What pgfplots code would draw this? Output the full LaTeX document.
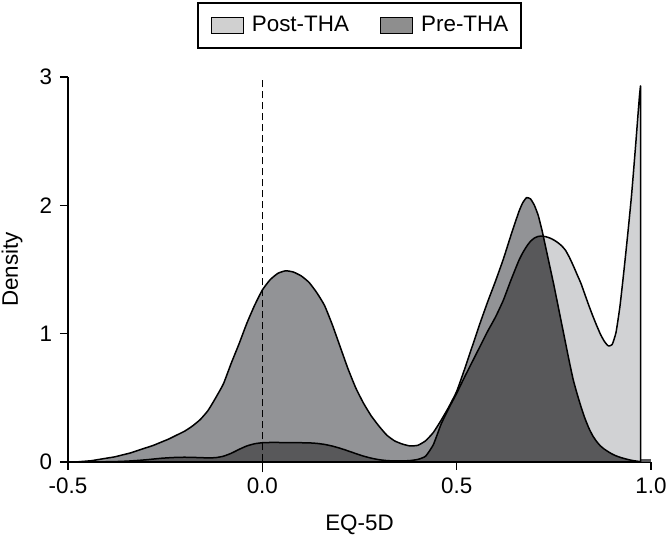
\documentclass[border=0pt]{standalone}
\usepackage{fontspec}
\setmainfont{Liberation Sans}
\usepackage{pgfplots}
\usepackage{pgfplotstable}
\pgfplotsset{compat=1.18}
\definecolor{preC}{HTML}{929396}
\definecolor{postC}{HTML}{D1D2D4}
\definecolor{ovC}{HTML}{58585A}
\definecolor{preLeg}{HTML}{8E8E8E}
\definecolor{postLeg}{HTML}{D0D0D0}
\pgfplotstableread{
x      pre    post   ov
-0.48  0.000  0.000  0.000
-0.46  0.005  0.000  0.000
-0.44  0.010  0.000  0.000
-0.42  0.020  0.001  0.001
-0.40  0.030  0.002  0.002
-0.38  0.040  0.003  0.003
-0.36  0.055  0.005  0.005
-0.34  0.070  0.008  0.008
-0.32  0.090  0.012  0.012
-0.30  0.110  0.017  0.017
-0.28  0.130  0.023  0.023
-0.26  0.155  0.029  0.029
-0.24  0.180  0.033  0.033
-0.22  0.210  0.036  0.036
-0.20  0.240  0.037  0.037
-0.18  0.280  0.036  0.036
-0.16  0.330  0.034  0.034
-0.14  0.400  0.032  0.032
-0.12  0.500  0.034  0.034
-0.10  0.610  0.045  0.045
-0.08  0.770  0.068  0.068
-0.06  0.920  0.098  0.098
-0.04  1.080  0.125  0.125
-0.02  1.220  0.142  0.142
0.00   1.340  0.150  0.150
0.02   1.420  0.152  0.152
0.04   1.470  0.152  0.152
0.06   1.490  0.151  0.151
0.08   1.480  0.151  0.151
0.10   1.450  0.150  0.150
0.12   1.400  0.149  0.149
0.14   1.320  0.145  0.145
0.16   1.220  0.137  0.137
0.18   1.070  0.124  0.124
0.20   0.900  0.107  0.107
0.22   0.730  0.087  0.087
0.24   0.580  0.066  0.066
0.26   0.460  0.046  0.046
0.28   0.360  0.030  0.030
0.30   0.280  0.018  0.018
0.32   0.210  0.011  0.011
0.34   0.165  0.008  0.008
0.36   0.140  0.008  0.008
0.38   0.125  0.011  0.011
0.40   0.130  0.020  0.020
0.42   0.165  0.045  0.045
0.44   0.230  0.135  0.135
0.46   0.325  0.295  0.295
0.48   0.430  0.420  0.420
0.50   0.550  0.535  0.535
0.52   0.720  0.660  0.660
0.54   0.900  0.780  0.780
0.56   1.080  0.900  0.900
0.58   1.250  1.020  1.020
0.60   1.410  1.130  1.130
0.62   1.580  1.260  1.260
0.64   1.770  1.420  1.420
0.66   1.950  1.570  1.570
0.67   2.020  1.630  1.630
0.68   2.060  1.680  1.680
0.69   2.050  1.720  1.720
0.70   2.000  1.745  1.745
0.71   1.920  1.758  1.758
0.72   1.800  1.760  1.760
0.723  1.758  1.758  1.758
0.73   1.660  1.755  1.660
0.74   1.520  1.745  1.520
0.75   1.380  1.730  1.380
0.76   1.230  1.710  1.230
0.77   1.080  1.685  1.080
0.78   0.930  1.650  0.930
0.79   0.780  1.595  0.780
0.80   0.640  1.530  0.640
0.81   0.530  1.460  0.530
0.82   0.430  1.390  0.430
0.83   0.340  1.305  0.340
0.84   0.265  1.220  0.265
0.85   0.205  1.140  0.205
0.86   0.160  1.065  0.160
0.87   0.125  0.995  0.125
0.88   0.100  0.940  0.100
0.89   0.080  0.905  0.080
0.90   0.062  0.915  0.062
0.91   0.048  1.010  0.048
0.92   0.037  1.210  0.037
0.93   0.028  1.480  0.028
0.94   0.020  1.770  0.020
0.95   0.013  2.080  0.013
0.96   0.008  2.450  0.008
0.97   0.004  2.840  0.004
0.973  0.003  2.930  0.003
}\data
\begin{document}
\fontsize{11.2}{13.4}\selectfont
\begin{tikzpicture}
\begin{axis}[
  scale only axis,
  width=291.5pt, height=192.5pt,
  xmin=-0.5, xmax=1.0, ymin=0, ymax=3,
  axis x line*=bottom, axis y line*=left,
  axis line style={line width=0.75pt, -},
  tick style={line width=0.75pt, black},
  tick align=outside,
  major tick length=4pt,
  xtick={-0.5,0,0.5,1}, xticklabels={-0.5,0.0,0.5,1.0},
  ytick={0,1,2,3},
  /pgf/number format/assume math mode=true,
  clip=false,
  xlabel={EQ-5D}, ylabel={Density},
  every axis x label/.style={at={(axis description cs:0.5,0)}, anchor=center, yshift=-31.5pt},
  every axis y label/.style={at={(axis description cs:-0.096,0.5)}, rotate=90, anchor=center},
  legend columns=2,
  legend image code/.code={\draw[#1,draw=black,line width=0.6pt] (0pt,-4pt) rectangle (16pt,4pt);},
  legend style={at={(0.5,1)}, anchor=south, yshift=14pt, draw=black, line width=1pt,
    inner xsep=6.5pt, inner ysep=6.5pt,
    nodes={inner sep=0pt, anchor=west},
    /tikz/every odd column/.append style={column sep=4pt},
    /tikz/every even column/.append style={column sep=15.5pt}},
]
\addlegendimage{fill=postLeg}
\addlegendentry{Post-THA}
\addlegendimage{fill=preLeg}
\addlegendentry{Pre-THA}
\addplot[forget plot, draw=none, fill=preC, smooth, tension=0.3] table[x=x,y=pre]{\data} \closedcycle;
\addplot[forget plot, draw=none, fill=postC, smooth, tension=0.3] table[x=x,y=post]{\data} \closedcycle;
\addplot[forget plot, draw=none, fill=ovC, smooth, tension=0.3] table[x=x,y=ov]{\data} \closedcycle;
\addplot[forget plot, ovC, line width=1.5pt] coordinates {(0.973,0.01) (1.0,0.01)};
\addplot[forget plot, draw=black, line width=0.75pt, line join=round, smooth, tension=0.3] table[x=x,y=pre]{\data};
\addplot[forget plot, draw=black, line width=0.75pt, line join=round, smooth, tension=0.3] table[x=x,y=post]{\data} \closedcycle;
\addplot[forget plot, black, line width=0.8pt, dash pattern=on 3.5pt off 2pt] coordinates {(0,-0.08) (0,3)};
\end{axis}
\pgfresetboundingbox
\path (-34pt,-41pt) rectangle (299pt,231pt);
\end{tikzpicture}
\end{document}
